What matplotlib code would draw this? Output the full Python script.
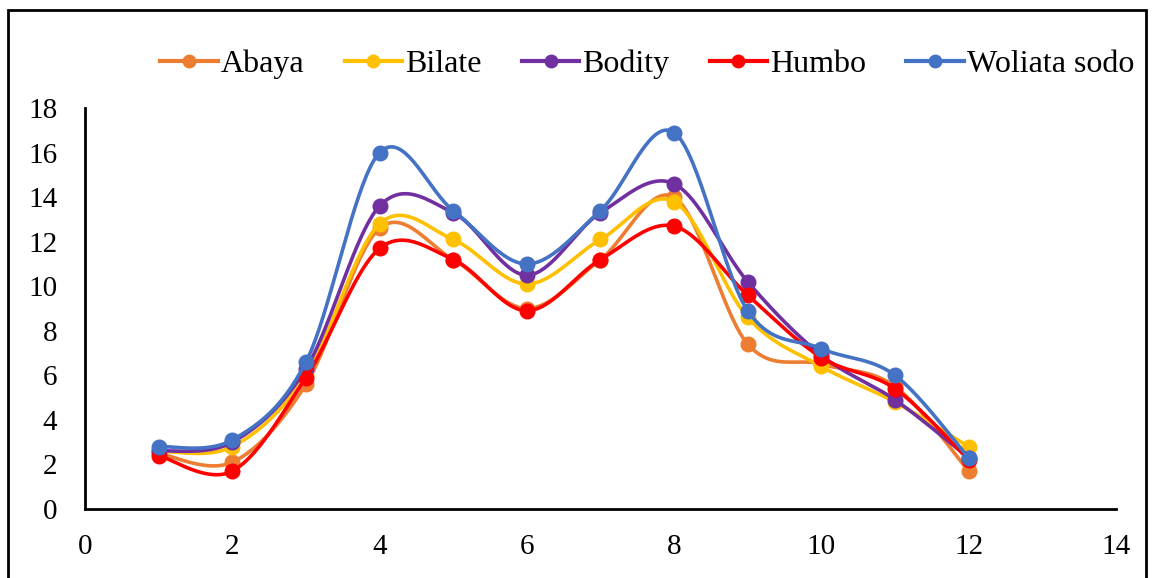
import numpy as np
import matplotlib.pyplot as plt
from matplotlib.patches import Rectangle

plt.rcParams['font.family'] = ['Liberation Serif', 'DejaVu Serif']

# Monthly values per station
months = [1, 2, 3, 4, 5, 6, 7, 8, 9, 10, 11, 12]
abaya = [2.5, 2.1, 5.6, 12.6, 11.2, 9.0, 11.2, 14.0, 7.4, 6.5, 5.5, 1.7]
bilate = [2.6, 2.8, 6.0, 12.8, 12.1, 10.1, 12.1, 13.8, 8.6, 6.4, 4.8, 2.8]
bodity = [2.6, 3.0, 6.3, 13.6, 13.3, 10.5, 13.3, 14.6, 10.2, 6.9, 4.9, 2.3]
humbo = [2.4, 1.7, 5.9, 11.7, 11.2, 8.9, 11.2, 12.7, 9.6, 6.8, 5.4, 2.2]
woliata = [2.8, 3.1, 6.6, 16.0, 13.4, 11.0, 13.4, 16.9, 8.9, 7.2, 6.0, 2.3]

series = [('Abaya', abaya, '#ED7D31'),
          ('Bilate', bilate, '#FFC000'),
          ('Bodity', bodity, '#7030A0'),
          ('Humbo', humbo, '#FF0000'),
          ('Woliata sodo', woliata, '#4472C4')]


def smooth(x, y, n=40):
    # Catmull-Rom style cubic Bezier through every point
    p = np.column_stack([x, y]).astype(float)
    p = np.vstack([p[0], p, p[-1]])
    out = []
    t = np.linspace(0, 1, n)[:, None]
    for i in range(1, len(p) - 2):
        p0, p1, p2, p3 = p[i - 1], p[i], p[i + 1], p[i + 2]
        c1 = p1 + (p2 - p0) / 6
        c2 = p2 - (p3 - p1) / 6
        seg = ((1 - t) ** 3) * p1 + 3 * ((1 - t) ** 2) * t * c1 \
            + 3 * (1 - t) * t ** 2 * c2 + t ** 3 * p2
        out.append(seg if i == 1 else seg[1:])
    out = np.vstack(out)
    return out[:, 0], out[:, 1]


fig = plt.figure(figsize=(11.54, 5.78), dpi=100)
ax = fig.add_axes([0.0737, 0.1194, 0.8933, 0.6936])

for name, vals, col in series:
    sx, sy = smooth(months, vals)
    ax.plot(sx, sy, color=col, lw=2.6, solid_capstyle='round')
    ax.plot(months, vals, 'o', color=col, ms=10.5)
    ax.plot([], [], '-o', color=col, lw=3, ms=9, label=name)

ax.set_xlim(0, 14)
ax.set_ylim(0, 18)
ax.set_xticks(range(0, 15, 2))
ax.set_yticks(range(0, 19, 2))
ax.tick_params(length=0, labelsize=21)
ax.tick_params(axis='y', pad=20)
ax.tick_params(axis='x', pad=18)
for s in ['top', 'right']:
    ax.spines[s].set_visible(False)
for s in ['left', 'bottom']:
    ax.spines[s].set_linewidth(2)
    ax.spines[s].set_color('black')

fig.legend(loc='center', bbox_to_anchor=(0.561, 0.888), ncol=5, frameon=False,
           fontsize=23, handlelength=1.8, handletextpad=0.1, columnspacing=1.25)

# outer chart border
fig.patches.append(Rectangle((8 / 1154, -0.05), (1146 - 8) / 1154, 1.05 - 10 / 578,
                             transform=fig.transFigure, fill=False,
                             edgecolor='black', lw=2))

fig.savefig('out.png', dpi=100)
